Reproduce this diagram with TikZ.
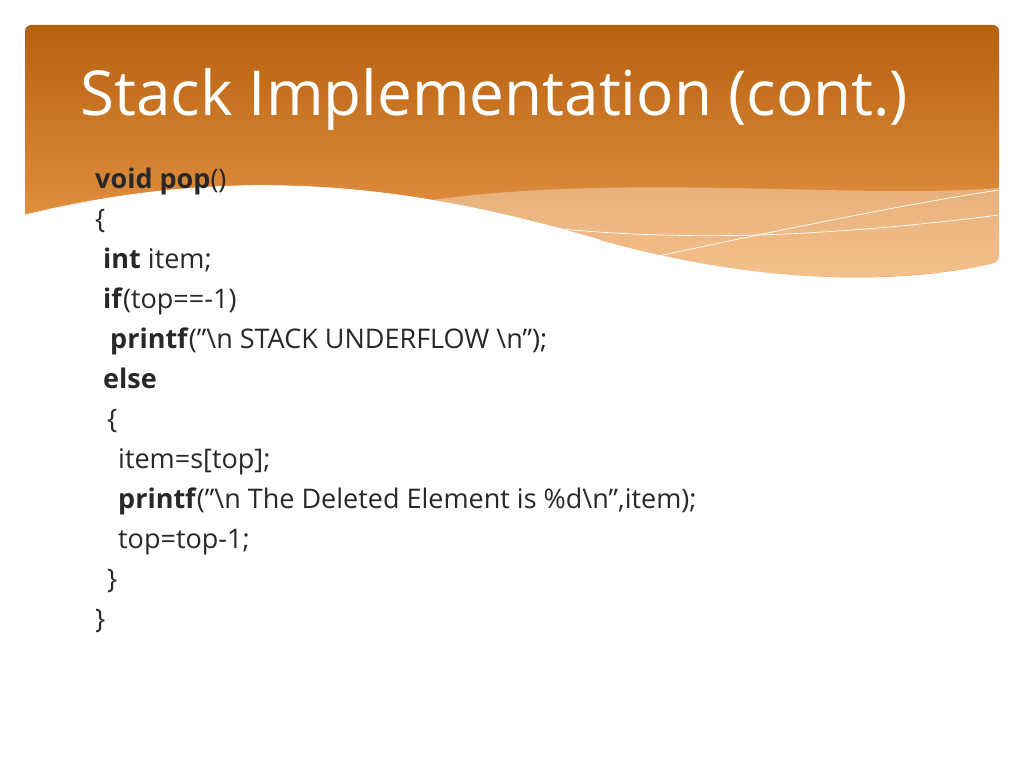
\documentclass[tikz,border=0pt]{standalone}
\usepackage{fontspec}
\setmainfont{Open Sans}
\usetikzlibrary{positioning}
\definecolor{hdrdark}{RGB}{181,96,14}
\definecolor{hdrlight}{RGB}{240,160,80}
\definecolor{codegray}{RGB}{40,40,40}
\tikzset{
  code/.style={anchor=base west,inner sep=0pt,text=codegray,font=\fontsize{27}{27}\selectfont},
  title/.style={anchor=base west,inner sep=0pt,text=white,font=\fontsize{62}{62}\selectfont}
}
\begin{document}
\begin{tikzpicture}[x=1pt,y=-1pt]
			\useasboundingbox (0,0) rectangle (1024,768);
			\fill[white] (0,0) rectangle (1024,768);
			% header band with wave
			\shade[top color=hdrdark,bottom color=hdrlight,rounded corners=6pt]
			  (25,215) -- (25,25) -- (999,25) -- (999,262) [sharp corners]
			  .. controls (900,285) and (760,285) .. (600,240)
			  .. controls (430,190) and (250,160) .. (25,215) -- cycle;
			\fill[white,opacity=0.35] (400,205) .. controls (600,170) and (850,200) .. (999,188)
			  -- (999,262) .. controls (900,285) and (760,285) .. (600,240)
			  .. controls (520,218) and (460,208) .. (400,205) -- cycle;
			\draw[white,line width=0.7pt] (380,200) .. controls (600,250) and (800,240) .. (999,215);
			\draw[white,line width=0.7pt] (630,262) .. controls (780,230) and (900,205) .. (999,190);
			\draw[white,line width=0.7pt] (25,215) .. controls (250,160) and (430,190) .. (600,240);
			
			\node[title] (ttl) at (80,115) {Stack Implementation (cont.)};
			
			\node[code] (l1) at (95,188) {\textbf{void pop}()};
			\node[code] (l2) at (95,228) {\{};
			\node[code] (l3) at (103,268) {\textbf{int} item;};
			\node[code] (l4) at (103,308) {\textbf{if}(top==-1)};
			\node[code] (l5) at (110,348) {\textbf{printf}("\textbackslash n STACK UNDERFLOW \textbackslash n");};
			\node[code] (l6) at (103,388) {\textbf{else}};
			\node[code] (l7) at (107,428) {\{};
			\node[code] (l8) at (118,468) {item=s[top];};
			\node[code] (l9) at (118,508) {\textbf{printf}("\textbackslash n The Deleted Element is \%d\textbackslash n",item);};
			\node[code] (l10) at (118,548) {top=top-1;};
			\node[code] (l11) at (107,588) {\}};
			\node[code] (l12) at (95,628) {\}};
		\end{tikzpicture}
\end{document}
